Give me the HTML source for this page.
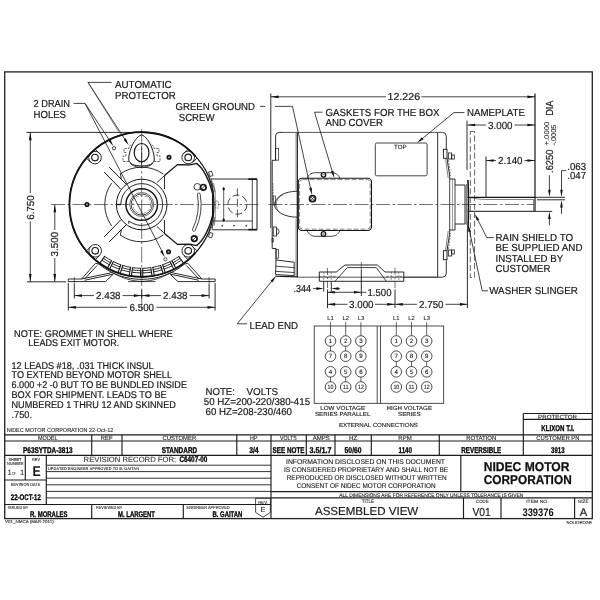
<!DOCTYPE html>
<html><head><meta charset="utf-8"><title>Assembled View</title>
<style>
html,body{margin:0;padding:0;background:#fff;}
body{width:600px;height:600px;overflow:hidden;font-family:"Liberation Sans",sans-serif;}
svg{display:block;text-rendering:geometricPrecision;font-family:"Liberation Sans",sans-serif;filter:grayscale(1) blur(0.3px);}
</style></head><body>
<svg width="600" height="600" viewBox="0 0 600 600">
<rect x="0" y="0" width="600" height="600" fill="#fff"/>
<rect x="4.7" y="71.9" width="587.6" height="446.7" stroke="#222" stroke-width="1.3" fill="none" />
<circle cx="141.7" cy="204.5" r="72.3" stroke="#151515" stroke-width="1.2" fill="none" />
<path d="M195.43 252.88 A72.3 72.3 0 1 1 195.43 156.12" stroke="#151515" stroke-width="1.8" fill="none" />
<line x1="51" y1="204.5" x2="259.5" y2="204.5" stroke="#151515" stroke-width="0.6" stroke-dasharray="14 2.5 2.5 2.5"/>
<line x1="141.7" y1="129" x2="141.7" y2="312" stroke="#151515" stroke-width="0.6" stroke-dasharray="16 2.5 2.5 2.5"/>
<circle cx="141.7" cy="204.5" r="10.6" stroke="#151515" stroke-width="0.8" fill="none" />
<circle cx="141.7" cy="204.5" r="12.0" stroke="#444" stroke-width="0.8" fill="none" />
<circle cx="141.7" cy="204.5" r="9.0" stroke="#555" stroke-width="0.6" fill="none" stroke-dasharray="3 1.5"/>
<circle cx="141.7" cy="204.5" r="15.8" stroke="#151515" stroke-width="1.5" fill="none" />
<path d="M120.80 204.50 A20.9 20.9 0 1 1 128.83 220.97" stroke="#151515" stroke-width="0.9" fill="none" />
<circle cx="141.7" cy="204.5" r="25.3" stroke="#151515" stroke-width="1.0" fill="none" />
<line x1="116.39999999999999" y1="204.5" x2="120.79999999999998" y2="204.5" stroke="#151515" stroke-width="1.4" />
<line x1="128.83" y1="220.97" x2="128.73" y2="223.73" stroke="#151515" stroke-width="0.9" />
<path d="M120.52 173.80 A37.3 37.3 0 0 1 163.36 174.13" stroke="#151515" stroke-width="0.9" fill="none" />
<path d="M163.36 234.87 A37.3 37.3 0 0 1 120.52 235.20" stroke="#151515" stroke-width="0.9" fill="none" />
<path d="M111.62 225.88 A36.9 36.9 0 0 1 111.62 183.12" stroke="#151515" stroke-width="0.9" fill="none" />
<line x1="104.2" y1="172.1" x2="120.8" y2="189.2" stroke="#151515" stroke-width="1.0" />
<line x1="109.2" y1="167.1" x2="126.25" y2="184.2" stroke="#151515" stroke-width="1.0" />
<line x1="120.4" y1="173.3" x2="121.3" y2="179.2" stroke="#151515" stroke-width="0.9" />
<line x1="164.5" y1="175.5" x2="157.0" y2="182.5" stroke="#151515" stroke-width="0.9" />
<line x1="164.5" y1="175.5" x2="164.5" y2="189.0" stroke="#151515" stroke-width="0.9" />
<line x1="104.2" y1="236.9" x2="120.8" y2="219.8" stroke="#151515" stroke-width="1.0" />
<line x1="109.2" y1="241.9" x2="126.25" y2="224.8" stroke="#151515" stroke-width="1.0" />
<line x1="120.4" y1="235.7" x2="121.3" y2="229.8" stroke="#151515" stroke-width="0.9" />
<line x1="164.5" y1="233.5" x2="157.0" y2="226.5" stroke="#151515" stroke-width="0.9" />
<line x1="164.5" y1="233.5" x2="164.5" y2="220.0" stroke="#151515" stroke-width="0.9" />
<circle cx="95.0" cy="157.6" r="6.3" stroke="#151515" stroke-width="0.9" fill="none" />
<circle cx="95.0" cy="157.6" r="3.3" stroke="#151515" stroke-width="1.1" fill="none" />
<circle cx="188.2" cy="157.4" r="6.3" stroke="#151515" stroke-width="0.9" fill="none" />
<circle cx="188.2" cy="157.4" r="3.3" stroke="#151515" stroke-width="1.1" fill="none" />
<circle cx="95.2" cy="250.8" r="6.3" stroke="#151515" stroke-width="0.9" fill="none" />
<circle cx="95.2" cy="250.8" r="3.3" stroke="#151515" stroke-width="1.1" fill="none" />
<circle cx="188.2" cy="250.8" r="6.3" stroke="#151515" stroke-width="0.9" fill="none" />
<circle cx="188.2" cy="250.8" r="3.3" stroke="#151515" stroke-width="1.1" fill="none" />
<line x1="183.7" y1="255.41" x2="188.02" y2="259.73" stroke="#151515" stroke-width="0.9" />
<line x1="192.61" y1="246.5" x2="196.93" y2="250.82" stroke="#151515" stroke-width="0.9" />
<line x1="90.79" y1="246.5" x2="86.47" y2="250.82" stroke="#151515" stroke-width="0.9" />
<line x1="99.7" y1="255.41" x2="95.38" y2="259.73" stroke="#151515" stroke-width="0.9" />
<line x1="99.7" y1="153.59" x2="95.38" y2="149.27" stroke="#151515" stroke-width="0.9" />
<line x1="90.79" y1="162.5" x2="86.47" y2="158.18" stroke="#151515" stroke-width="0.9" />
<line x1="192.61" y1="162.5" x2="196.93" y2="158.18" stroke="#151515" stroke-width="0.9" />
<line x1="183.7" y1="153.59" x2="188.02" y2="149.27" stroke="#151515" stroke-width="0.9" />
<circle cx="87.0" cy="204.5" r="1.8" stroke="#151515" stroke-width="1.5" fill="#9a9a9a" />
<circle cx="169.0" cy="157.2" r="1.8" stroke="#151515" stroke-width="1.5" fill="#9a9a9a" />
<circle cx="168.5" cy="251.7" r="1.8" stroke="#151515" stroke-width="1.5" fill="#9a9a9a" />
<circle cx="114.0" cy="148.2" r="1.7" stroke="#151515" stroke-width="0.8" fill="none" />
<circle cx="165.3" cy="259.3" r="1.6" stroke="#151515" stroke-width="0.7" fill="none" />
<path d="M141.5 134.8 C145.5 136,149.5 142,151.5 147 C153.3 151.5,154.6 156.5,154.2 160 C153.7 163.8,149 165.9,141.5 165.9 C134 165.9,129.3 163.8,128.8 160 C128.4 156.5,129.7 151.5,131.5 147 C133.5 142,137.5 136,141.5 134.8 Z" stroke="#151515" stroke-width="1.0" fill="none" />
<path d="M130.2 163.3 C132.5 166.2,137 167.3,141.5 167.3 C146 167.3,150.5 166.2,152.8 163.3" stroke="#151515" stroke-width="0.8" fill="none" />
<ellipse cx="141.6" cy="152.7" rx="7.4" ry="9.2" stroke="#151515" stroke-width="1.2" fill="none"/>
<line x1="141.6" y1="145.5" x2="141.6" y2="164.5" stroke="#151515" stroke-width="0.7" />
<path d="M131.2 144.8 L129 146.6 L129 148.5 L124 148.5 L124 152.5 L126 152.5 L126 156 L123 156 L123 161.5 L129 161.5" stroke="#222" stroke-width="0.7" fill="none" stroke-dasharray="2.4 1.1"/>
<path d="M151.8 144.8 L154 146.6 L154 148.5 L159 148.5 L159 152.5 L157 152.5 L157 156 L160 156 L160 161.5 L154 161.5" stroke="#222" stroke-width="0.7" fill="none" stroke-dasharray="2.4 1.1"/>
<path d="M164.5 175.5 L177.5 164.6 L190 164.9 L196.5 163.4 C203 168,209.5 180,212.6 193.5 L212.6 215.5 C209.5 229,203 241,196.5 245.6 L190 244.1 L177.5 244.4 L164.5 233.5" stroke="#151515" stroke-width="1.3" fill="none" />
<path d="M198.5 165 C204 170,210 181,213.6 193" stroke="#333" stroke-width="0.6" fill="none" />
<path d="M198.5 244 C204 239,210 228,213.6 216" stroke="#333" stroke-width="0.6" fill="none" />
<path d="M200.5 163.2 C206 169,212 180,215 192" stroke="#333" stroke-width="0.6" fill="none" />
<path d="M200.5 245.8 C206 240,212 229,215 217" stroke="#333" stroke-width="0.6" fill="none" />
<circle cx="197.3" cy="186.8" r="3.3" stroke="#151515" stroke-width="0.8" fill="none" />
<circle cx="203.3" cy="187.3" r="2.8" stroke="#151515" stroke-width="1.7" fill="none" />
<line x1="201.4" y1="189.2" x2="205.2" y2="185.4" stroke="#151515" stroke-width="0.9" />
<circle cx="194.3" cy="238.6" r="2.8" stroke="#151515" stroke-width="1.7" fill="none" />
<line x1="192.4" y1="240.5" x2="196.2" y2="236.7" stroke="#151515" stroke-width="0.9" />
<path d="M197.44 194.67 A56.6 56.6 0 0 1 192.57 229.31 A1.3999999999999986 1.3999999999999986 0 0 0 195.09 230.54 A59.4 59.4 0 0 0 200.20 194.19 A1.3999999999999986 1.3999999999999986 0 0 0 197.44 194.67 Z" stroke="#151515" stroke-width="0.8" fill="none" />
<path d="M208.5 172 L211.5 171 L213 175.5 L210 176.5 Z" stroke="#151515" stroke-width="0.8" fill="none" />
<path d="M208.5 237 L211.5 238 L213 233.5 L210 232.5 Z" stroke="#151515" stroke-width="0.8" fill="none" />
<line x1="211.0" y1="179.0" x2="257.0" y2="179.0" stroke="#151515" stroke-width="0.9" />
<line x1="212.3" y1="229.8" x2="257.0" y2="229.8" stroke="#151515" stroke-width="0.9" />
<line x1="257.0" y1="179.0" x2="257.0" y2="229.8" stroke="#151515" stroke-width="1.0" />
<line x1="252.3" y1="179.0" x2="252.3" y2="229.8" stroke="#151515" stroke-width="0.8" />
<line x1="248.3" y1="179.2" x2="257.0" y2="179.2" stroke="#151515" stroke-width="1.6" />
<line x1="248.3" y1="229.6" x2="257.0" y2="229.6" stroke="#151515" stroke-width="1.6" />
<path d="M211.5 179.5 L213.2 191.7 L213.2 218.3 L212.3 229.5" stroke="#151515" stroke-width="0.7" fill="none" />
<path d="M213.5 183 L215.2 191.7 L215.2 218.3 L214 226" stroke="#333" stroke-width="0.6" fill="none" />
<line x1="213.2" y1="221.0" x2="252.3" y2="221.0" stroke="#151515" stroke-width="0.8" />
<circle cx="222.3" cy="225.7" r="0.5" stroke="#151515" stroke-width="0.7" fill="#151515" />
<circle cx="234.0" cy="225.7" r="0.5" stroke="#151515" stroke-width="0.7" fill="#151515" />
<circle cx="246.3" cy="225.7" r="0.5" stroke="#151515" stroke-width="0.7" fill="#151515" />
<circle cx="237.4" cy="204.6" r="9.6" stroke="#151515" stroke-width="0.8" fill="none" stroke-dasharray="7 3"/>
<line x1="237.4" y1="188.3" x2="237.4" y2="218.5" stroke="#151515" stroke-width="0.7" stroke-dasharray="8 2.5"/>
<line x1="223.7" y1="187.0" x2="223.7" y2="221.5" stroke="#151515" stroke-width="0.7" />
<path d="M223.7 187.6 L224.9 189 L223.7 190.4 L222.5 189 Z" stroke="#151515" stroke-width="0.5" fill="#151515" />
<path d="M223.7 218.6 L224.9 220 L223.7 221.4 L222.5 220 Z" stroke="#151515" stroke-width="0.5" fill="#151515" />
<rect x="215.8" y="201.0" width="2.6" height="7.2" stroke="#333" stroke-width="0.5" fill="none" stroke-dasharray="2 1"/>
<path d="M178.75 256.44 A63.8 63.8 0 0 1 171.85 260.73" stroke="#151515" stroke-width="0.9" fill="none" />
<path d="M180.08 258.31 A66.1 66.1 0 0 1 172.94 262.75" stroke="#151515" stroke-width="0.9" fill="none" />
<path d="M181.42 260.19 A68.4 68.4 0 0 1 174.02 264.78" stroke="#151515" stroke-width="0.9" fill="none" />
<line x1="178.52" y1="256.11" x2="183.28" y2="262.79" stroke="#151515" stroke-width="1.1" />
<line x1="171.66" y1="260.37" x2="175.53" y2="267.6" stroke="#151515" stroke-width="1.1" />
<path d="M170.07 261.65 A63.8 63.8 0 0 1 162.58 264.79" stroke="#151515" stroke-width="0.9" fill="none" />
<path d="M171.09 263.71 A66.1 66.1 0 0 1 163.33 266.96" stroke="#151515" stroke-width="0.9" fill="none" />
<path d="M172.11 265.77 A68.4 68.4 0 0 1 164.08 269.13" stroke="#151515" stroke-width="0.9" fill="none" />
<line x1="169.89" y1="261.29" x2="173.54" y2="268.63" stroke="#151515" stroke-width="1.1" />
<line x1="162.45" y1="264.41" x2="165.13" y2="272.16" stroke="#151515" stroke-width="1.1" />
<path d="M160.67 265.41 A63.8 63.8 0 0 1 152.78 267.33" stroke="#151515" stroke-width="0.9" fill="none" />
<path d="M161.36 267.61 A66.1 66.1 0 0 1 153.18 269.60" stroke="#151515" stroke-width="0.9" fill="none" />
<path d="M162.04 269.81 A68.4 68.4 0 0 1 153.58 271.86" stroke="#151515" stroke-width="0.9" fill="none" />
<line x1="160.55" y1="265.03" x2="162.99" y2="272.86" stroke="#151515" stroke-width="1.1" />
<line x1="152.71" y1="266.94" x2="154.13" y2="275.01" stroke="#151515" stroke-width="1.1" />
<path d="M150.80 267.65 A63.8 63.8 0 0 1 142.70 268.29" stroke="#151515" stroke-width="0.9" fill="none" />
<path d="M151.13 269.92 A66.1 66.1 0 0 1 142.74 270.59" stroke="#151515" stroke-width="0.9" fill="none" />
<path d="M151.46 272.20 A68.4 68.4 0 0 1 142.77 272.89" stroke="#151515" stroke-width="0.9" fill="none" />
<line x1="150.74" y1="267.25" x2="151.91" y2="275.37" stroke="#151515" stroke-width="1.1" />
<line x1="142.7" y1="267.89" x2="142.82" y2="276.09" stroke="#151515" stroke-width="1.1" />
<path d="M140.70 268.29 A63.8 63.8 0 0 1 132.60 267.65" stroke="#151515" stroke-width="0.9" fill="none" />
<path d="M140.66 270.59 A66.1 66.1 0 0 1 132.27 269.92" stroke="#151515" stroke-width="0.9" fill="none" />
<path d="M140.63 272.89 A68.4 68.4 0 0 1 131.94 272.20" stroke="#151515" stroke-width="0.9" fill="none" />
<line x1="140.7" y1="267.89" x2="140.58" y2="276.09" stroke="#151515" stroke-width="1.1" />
<line x1="132.66" y1="267.25" x2="131.49" y2="275.37" stroke="#151515" stroke-width="1.1" />
<path d="M130.62 267.33 A63.8 63.8 0 0 1 122.73 265.41" stroke="#151515" stroke-width="0.9" fill="none" />
<path d="M130.22 269.60 A66.1 66.1 0 0 1 122.04 267.61" stroke="#151515" stroke-width="0.9" fill="none" />
<path d="M129.82 271.86 A68.4 68.4 0 0 1 121.36 269.81" stroke="#151515" stroke-width="0.9" fill="none" />
<line x1="130.69" y1="266.94" x2="129.27" y2="275.01" stroke="#151515" stroke-width="1.1" />
<line x1="122.85" y1="265.03" x2="120.41" y2="272.86" stroke="#151515" stroke-width="1.1" />
<path d="M120.82 264.79 A63.8 63.8 0 0 1 113.33 261.65" stroke="#151515" stroke-width="0.9" fill="none" />
<path d="M120.07 266.96 A66.1 66.1 0 0 1 112.31 263.71" stroke="#151515" stroke-width="0.9" fill="none" />
<path d="M119.32 269.13 A68.4 68.4 0 0 1 111.29 265.77" stroke="#151515" stroke-width="0.9" fill="none" />
<line x1="120.95" y1="264.41" x2="118.27" y2="272.16" stroke="#151515" stroke-width="1.1" />
<line x1="113.51" y1="261.29" x2="109.86" y2="268.63" stroke="#151515" stroke-width="1.1" />
<path d="M111.55 260.73 A63.8 63.8 0 0 1 104.65 256.44" stroke="#151515" stroke-width="0.9" fill="none" />
<path d="M110.46 262.75 A66.1 66.1 0 0 1 103.32 258.31" stroke="#151515" stroke-width="0.9" fill="none" />
<path d="M109.38 264.78 A68.4 68.4 0 0 1 101.98 260.19" stroke="#151515" stroke-width="0.9" fill="none" />
<line x1="111.74" y1="260.37" x2="107.87" y2="267.6" stroke="#151515" stroke-width="1.1" />
<line x1="104.88" y1="256.11" x2="100.12" y2="262.79" stroke="#151515" stroke-width="1.1" />
<path d="M68.2 279 L81.5 279 L95.5 263.3 L99.0 264.2" stroke="#151515" stroke-width="0.9" fill="none" />
<path d="M68.2 281.6 L105.5 281.6 L113.5 274" stroke="#151515" stroke-width="0.9" fill="none" />
<line x1="68.2" y1="279" x2="68.2" y2="281.6" stroke="#151515" stroke-width="0.9" />
<path d="M84.5 279 L97.0 265.5" stroke="#151515" stroke-width="0.9" fill="none" />
<path d="M81.5 279 L112.5 272.5" stroke="#151515" stroke-width="0.9" fill="none" />
<path d="M84.5 280.3 L113.0 274.2" stroke="#151515" stroke-width="0.9" fill="none" />
<line x1="74.3" y1="277" x2="74.3" y2="284" stroke="#151515" stroke-width="0.6" />
<path d="M215.2 279 L201.9 279 L187.9 263.3 L184.4 264.2" stroke="#151515" stroke-width="0.9" fill="none" />
<path d="M215.2 281.6 L177.9 281.6 L169.9 274" stroke="#151515" stroke-width="0.9" fill="none" />
<line x1="215.2" y1="279" x2="215.2" y2="281.6" stroke="#151515" stroke-width="0.9" />
<path d="M198.9 279 L186.4 265.5" stroke="#151515" stroke-width="0.9" fill="none" />
<path d="M201.9 279 L170.9 272.5" stroke="#151515" stroke-width="0.9" fill="none" />
<path d="M198.9 280.3 L170.4 274.2" stroke="#151515" stroke-width="0.9" fill="none" />
<line x1="209.1" y1="277" x2="209.1" y2="284" stroke="#151515" stroke-width="0.6" />
<path d="M99 264.2 C112 274.5,126 279.2,141.7 279.4 C157.4 279.2,171.4 274.5,184.4 264.2" stroke="#151515" stroke-width="0.9" fill="none" />
<path d="M112.5 272.7 C122 277.8,131 281.2,141.7 281.4 C152.4 281.2,161.4 277.8,170.9 272.7" stroke="#151515" stroke-width="0.8" fill="none" />
<line x1="128" y1="281.6" x2="155.4" y2="281.6" stroke="#151515" stroke-width="0.8" />
<line x1="268.5" y1="204.5" x2="534" y2="204.5" stroke="#151515" stroke-width="0.6" stroke-dasharray="14 2.5 2.5 2.5"/>
<line x1="283.0" y1="132.4" x2="442.5" y2="132.4" stroke="#2a2a2a" stroke-width="0.8" />
<line x1="297.3" y1="277.2" x2="437.7" y2="277.2" stroke="#2a2a2a" stroke-width="0.8" />
<path d="M283 132.4 L279.2 132.4 Q275.6 132.4 275.6 136 L275.6 160.3 L272.0 160.3" stroke="#151515" stroke-width="0.9" fill="none" />
<line x1="272.2" y1="160.3" x2="272.2" y2="248.5" stroke="#151515" stroke-width="0.9" />
<line x1="270.8" y1="160.3" x2="270.8" y2="228.0" stroke="#151515" stroke-width="0.9" />
<rect x="275.6" y="148.3" width="3.1" height="11.8" stroke="#151515" stroke-width="0.7" fill="none" />
<line x1="297.3" y1="132.4" x2="297.3" y2="277.2" stroke="#151515" stroke-width="1.2" />
<line x1="295.9" y1="133" x2="295.9" y2="190" stroke="#444" stroke-width="0.5" />
<line x1="295.9" y1="219" x2="295.9" y2="277" stroke="#444" stroke-width="0.5" />
<path d="M297.3 191.2 C284.5 191.2,274.6 197.2,274.6 204.5 C274.6 211.5,284.5 217.2,297.3 217.2" stroke="#151515" stroke-width="0.9" fill="none" />
<path d="M283 194.6 C278.5 196.8,276.3 200.3,276.3 204.5 C276.3 207.5,277.3 209.8,279 211.5" stroke="#333" stroke-width="0.6" fill="none" />
<line x1="273.0" y1="183" x2="273.0" y2="200" stroke="#333" stroke-width="0.6" stroke-dasharray="2 1"/>
<rect x="273.4" y="196.0" width="2.0" height="9" stroke="#151515" stroke-width="0.6" fill="none" />
<rect x="273.2" y="227.0" width="3.2" height="9.0" stroke="#151515" stroke-width="0.8" fill="none" />
<path d="M276.4 228.5 Q279 228.5 279 231.5 Q279 234.5 276.4 234.5" stroke="#151515" stroke-width="0.8" fill="none" />
<rect x="272.0" y="238.5" width="1.6" height="3.5" stroke="#151515" stroke-width="0.6" fill="none" />
<path d="M272.2 248.5 L276.0 248.5 L276.0 260" stroke="#151515" stroke-width="0.9" fill="none" />
<rect x="276.0" y="249.5" width="2.4" height="8.8" stroke="#151515" stroke-width="0.7" fill="none" />
<path d="M276.0 260.0 L294.2 262.2 L294.2 275.6 L275.6 274.6 Z" stroke="#151515" stroke-width="0.9" fill="none" />
<line x1="275.9" y1="266.2" x2="294.2" y2="267.6" stroke="#151515" stroke-width="0.8" />
<line x1="275.8" y1="271.4" x2="294.2" y2="272.5" stroke="#151515" stroke-width="0.8" />
<line x1="275.5" y1="276.2" x2="297.3" y2="276.9" stroke="#151515" stroke-width="1.1" />
<rect x="298.3" y="178.3" width="73.2" height="52.2" rx="3.7" ry="3.7" stroke="#151515" stroke-width="1.1" fill="none"/>
<rect x="299.6" y="179.6" width="70.6" height="49.6" rx="3" ry="3" stroke="#333" stroke-width="0.6" fill="none" stroke-dasharray="5 2"/>
<path d="M307 178.3 C309 174,312 172.7,316 172.7 L331 172.7 C335 172.7,338 174,340 178.3" stroke="#151515" stroke-width="0.8" fill="none" />
<path d="M307 230.5 C309 234.8,312 236.3,316 236.3 L331 236.3 C335 236.3,338 234.8,340 230.5" stroke="#151515" stroke-width="0.8" fill="none" />
<circle cx="323.5" cy="174.8" r="2.3" stroke="#151515" stroke-width="1.2" fill="none" />
<line x1="322" y1="174.8" x2="325" y2="174.8" stroke="#151515" stroke-width="0.6" />
<circle cx="323.5" cy="234.0" r="2.3" stroke="#151515" stroke-width="1.2" fill="none" />
<line x1="322" y1="234.0" x2="325" y2="234.0" stroke="#151515" stroke-width="0.6" />
<circle cx="312.5" cy="198.7" r="3.0" stroke="#151515" stroke-width="1.7" fill="none" />
<line x1="310.7" y1="196.9" x2="314.3" y2="200.5" stroke="#151515" stroke-width="0.8" />
<line x1="310.7" y1="200.5" x2="314.3" y2="196.9" stroke="#151515" stroke-width="0.8" />
<rect x="375.3" y="143.0" width="51.8" height="32.8" rx="1.5" ry="1.5" stroke="#151515" stroke-width="0.8" fill="none"/>
<text x="400.3" y="149.3" font-size="6.0" text-anchor="middle" textLength="12.5" lengthAdjust="spacingAndGlyphs" fill="#222"  stroke="#222" stroke-width="0.12">TOP</text>
<line x1="437.7" y1="132.4" x2="437.7" y2="277.2" stroke="#151515" stroke-width="0.9" />
<path d="M442.5 132.4 Q446.3 132.4 446.3 136.4 L446.3 149.3" stroke="#151515" stroke-width="0.9" fill="none" />
<path d="M442.5 277.2 Q446.3 277.2 446.3 273.2 L446.3 260.3" stroke="#151515" stroke-width="0.9" fill="none" />
<line x1="437.7" y1="277.2" x2="442.5" y2="277.2" stroke="#151515" stroke-width="0.9" />
<rect x="443.4" y="149.3" width="3.6" height="9.0" stroke="#151515" stroke-width="0.9" fill="none" />
<rect x="448.3" y="153.0" width="3.4" height="6" stroke="#151515" stroke-width="0.8" fill="none" />
<rect x="451.7" y="155.0" width="2.6" height="4" stroke="#151515" stroke-width="0.8" fill="none" />
<path d="M447 158.3 L449.7 176.0 L449.7 179.0 L455 179.0 L455 185.0 L465 185.0 L465 204.5" stroke="#151515" stroke-width="0.9" fill="none" />
<line x1="445.6" y1="159.0" x2="448.2" y2="178.0" stroke="#333" stroke-width="0.6" />
<line x1="448.5" y1="160.0" x2="450.5" y2="176.0" stroke="#333" stroke-width="0.6" stroke-dasharray="2 1"/>
<rect x="443.4" y="250.7" width="3.6" height="9.0" stroke="#151515" stroke-width="0.9" fill="none" />
<rect x="448.3" y="250.0" width="3.4" height="6" stroke="#151515" stroke-width="0.8" fill="none" />
<rect x="451.7" y="250.0" width="2.6" height="4" stroke="#151515" stroke-width="0.8" fill="none" />
<path d="M447 250.7 L449.7 233.0 L449.7 230.0 L455 230.0 L455 224.0 L465 224.0 L465 204.5" stroke="#151515" stroke-width="0.9" fill="none" />
<line x1="445.6" y1="250.0" x2="448.2" y2="231.0" stroke="#333" stroke-width="0.6" />
<line x1="448.5" y1="249.0" x2="450.5" y2="233.0" stroke="#333" stroke-width="0.6" stroke-dasharray="2 1"/>
<line x1="449.7" y1="179" x2="449.7" y2="230" stroke="#151515" stroke-width="0.8" />
<line x1="455" y1="185" x2="455" y2="224" stroke="#151515" stroke-width="0.8" />
<line x1="452.5" y1="179" x2="452.5" y2="230" stroke="#444" stroke-width="0.5" />
<path d="M467.9 180 C468.6 190,468.6 219,467.9 229" stroke="#151515" stroke-width="1.6" fill="none" />
<line x1="466.4" y1="184" x2="466.4" y2="225" stroke="#151515" stroke-width="0.6" />
<rect x="470.3" y="131.4" width="4.3" height="146.2" stroke="#222" stroke-width="0.7" fill="none" stroke-dasharray="6 2.5"/>
<line x1="467.5" y1="197.3" x2="535.0" y2="197.3" stroke="#151515" stroke-width="1.2" />
<line x1="467.5" y1="211.3" x2="535.0" y2="211.3" stroke="#151515" stroke-width="1.0" />
<line x1="535.0" y1="197.3" x2="535.0" y2="211.3" stroke="#151515" stroke-width="1.2" />
<path d="M470 197.5 C476 198.6,480 199.4,486 199.5 L533.5 199.5" stroke="#333" stroke-width="0.6" fill="none" />
<line x1="533.5" y1="199.5" x2="533.5" y2="211" stroke="#333" stroke-width="0.6" />
<path d="M319.3 272 L336.2 272 L345 265 L377.5 265 L385 272 L403.8 272 L403.8 281.3 L319.3 281.3 Z" stroke="#151515" stroke-width="0.9" fill="none" />
<path d="M335 281.3 L347.3 267.6 L376.3 267.6 L386.3 281.3" stroke="#151515" stroke-width="0.8" fill="none" />
<line x1="319.3" y1="276.4" x2="336" y2="276.4" stroke="#333" stroke-width="0.5" stroke-dasharray="3 1.5"/>
<line x1="386" y1="276.4" x2="403.8" y2="276.4" stroke="#333" stroke-width="0.5" stroke-dasharray="3 1.5"/>
<line x1="323.7" y1="272" x2="323.7" y2="281.3" stroke="#333" stroke-width="0.5" stroke-dasharray="2 1"/>
<line x1="331.3" y1="272" x2="331.3" y2="281.3" stroke="#333" stroke-width="0.5" stroke-dasharray="2 1"/>
<line x1="391.2" y1="272" x2="391.2" y2="281.3" stroke="#333" stroke-width="0.5" stroke-dasharray="2 1"/>
<line x1="398.8" y1="272" x2="398.8" y2="281.3" stroke="#333" stroke-width="0.5" stroke-dasharray="2 1"/>
<line x1="403.8" y1="277.2" x2="437.7" y2="277.2" stroke="#151515" stroke-width="0.7" />
<text x="14" y="336.8" font-size="9.8" textLength="158.7" lengthAdjust="spacingAndGlyphs" fill="#1a1a1a"  stroke="#1a1a1a" stroke-width="0.2">NOTE: GROMMET IN SHELL WHERE</text>
<text x="28.3" y="346.4" font-size="9.8" textLength="91" lengthAdjust="spacingAndGlyphs" fill="#1a1a1a"  stroke="#1a1a1a" stroke-width="0.2">LEADS EXIT MOTOR.</text>
<text x="11.5" y="368.6" font-size="9.8" textLength="142.2" lengthAdjust="spacingAndGlyphs" fill="#1a1a1a"  stroke="#1a1a1a" stroke-width="0.2">12 LEADS #18, .031 THICK INSUL</text>
<text x="11.5" y="378.3" font-size="9.8" textLength="160.5" lengthAdjust="spacingAndGlyphs" fill="#1a1a1a"  stroke="#1a1a1a" stroke-width="0.2">TO EXTEND BEYOND MOTOR SHELL</text>
<text x="11.5" y="388.1" font-size="9.8" textLength="175.5" lengthAdjust="spacingAndGlyphs" fill="#1a1a1a"  stroke="#1a1a1a" stroke-width="0.2">6.000 +2 -0 BUT TO BE BUNDLED INSIDE</text>
<text x="11.5" y="397.9" font-size="9.8" textLength="155.2" lengthAdjust="spacingAndGlyphs" fill="#1a1a1a"  stroke="#1a1a1a" stroke-width="0.2">BOX FOR SHIPMENT. LEADS TO BE</text>
<text x="11.5" y="407.7" font-size="9.8" textLength="164.3" lengthAdjust="spacingAndGlyphs" fill="#1a1a1a"  stroke="#1a1a1a" stroke-width="0.2">NUMBERED 1 THRU 12 AND SKINNED</text>
<text x="11.5" y="417.6" font-size="9.8" textLength="20.5" lengthAdjust="spacingAndGlyphs" fill="#1a1a1a"  stroke="#1a1a1a" stroke-width="0.2">.750.</text>
<text x="6.7" y="432.3" font-size="5.8" textLength="106.6" lengthAdjust="spacingAndGlyphs" fill="#2a2a2a"  stroke="#2a2a2a" stroke-width="0.12">NIDEC MOTOR CORPORATION 22-Oct-12</text>
<text x="205.5" y="394.7" font-size="10.0" textLength="29.5" lengthAdjust="spacingAndGlyphs" fill="#1a1a1a"  stroke="#1a1a1a" stroke-width="0.2">NOTE:</text>
<text x="246.5" y="394.7" font-size="10.0" textLength="31.5" lengthAdjust="spacingAndGlyphs" fill="#1a1a1a"  stroke="#1a1a1a" stroke-width="0.2">VOLTS</text>
<text x="203.8" y="405.4" font-size="10.0" textLength="106.3" lengthAdjust="spacingAndGlyphs" fill="#1a1a1a"  stroke="#1a1a1a" stroke-width="0.2">50 HZ=200-220/380-415</text>
<text x="205.5" y="415.4" font-size="10.0" textLength="86.5" lengthAdjust="spacingAndGlyphs" fill="#1a1a1a"  stroke="#1a1a1a" stroke-width="0.2">60 HZ=208-230/460</text>
<text x="249.5" y="328.8" font-size="10.1" textLength="48.5" lengthAdjust="spacingAndGlyphs" fill="#1a1a1a"  stroke="#1a1a1a" stroke-width="0.2">LEAD END</text>
<rect x="314.2" y="326.0" width="129.5" height="77.3" stroke="#222" stroke-width="0.8" fill="none" />
<line x1="377.2" y1="326.0" x2="377.2" y2="403.3" stroke="#222" stroke-width="0.8" />
<line x1="380.5" y1="326.0" x2="380.5" y2="403.3" stroke="#222" stroke-width="0.8" />
<text x="330.5" y="320.3" font-size="5.8" text-anchor="middle" fill="#2a2a2a"  stroke="#2a2a2a" stroke-width="0.12">L1</text>
<line x1="330.5" y1="322.2" x2="330.5" y2="335.7" stroke="#222" stroke-width="0.7" />
<line x1="330.5" y1="346.3" x2="330.5" y2="350.9" stroke="#222" stroke-width="0.7" />
<line x1="330.5" y1="377.1" x2="330.5" y2="381.7" stroke="#222" stroke-width="0.7" />
<circle cx="330.5" cy="341.0" r="5.3" stroke="#222" stroke-width="0.8" fill="none" />
<text x="330.5" y="343.2" font-size="6.2" text-anchor="middle" fill="#1a1a1a"  stroke="#1a1a1a" stroke-width="0.12">1</text>
<circle cx="330.5" cy="356.2" r="5.3" stroke="#222" stroke-width="0.8" fill="none" />
<text x="330.5" y="358.4" font-size="6.2" text-anchor="middle" fill="#1a1a1a"  stroke="#1a1a1a" stroke-width="0.12">7</text>
<circle cx="330.5" cy="371.8" r="5.3" stroke="#222" stroke-width="0.8" fill="none" />
<text x="330.5" y="374.0" font-size="6.2" text-anchor="middle" fill="#1a1a1a"  stroke="#1a1a1a" stroke-width="0.12">4</text>
<circle cx="330.5" cy="387.0" r="5.3" stroke="#222" stroke-width="0.8" fill="none" />
<text x="330.5" y="389.2" font-size="6.2" text-anchor="middle" textLength="5.8" lengthAdjust="spacingAndGlyphs" fill="#1a1a1a"  stroke="#1a1a1a" stroke-width="0.12">10</text>
<text x="345.7" y="320.3" font-size="5.8" text-anchor="middle" fill="#2a2a2a"  stroke="#2a2a2a" stroke-width="0.12">L2</text>
<line x1="345.7" y1="322.2" x2="345.7" y2="335.7" stroke="#222" stroke-width="0.7" />
<line x1="345.7" y1="346.3" x2="345.7" y2="350.9" stroke="#222" stroke-width="0.7" />
<line x1="345.7" y1="377.1" x2="345.7" y2="381.7" stroke="#222" stroke-width="0.7" />
<circle cx="345.7" cy="341.0" r="5.3" stroke="#222" stroke-width="0.8" fill="none" />
<text x="345.7" y="343.2" font-size="6.2" text-anchor="middle" fill="#1a1a1a"  stroke="#1a1a1a" stroke-width="0.12">2</text>
<circle cx="345.7" cy="356.2" r="5.3" stroke="#222" stroke-width="0.8" fill="none" />
<text x="345.7" y="358.4" font-size="6.2" text-anchor="middle" fill="#1a1a1a"  stroke="#1a1a1a" stroke-width="0.12">8</text>
<circle cx="345.7" cy="371.8" r="5.3" stroke="#222" stroke-width="0.8" fill="none" />
<text x="345.7" y="374.0" font-size="6.2" text-anchor="middle" fill="#1a1a1a"  stroke="#1a1a1a" stroke-width="0.12">5</text>
<circle cx="345.7" cy="387.0" r="5.3" stroke="#222" stroke-width="0.8" fill="none" />
<text x="345.7" y="389.2" font-size="6.2" text-anchor="middle" textLength="5.8" lengthAdjust="spacingAndGlyphs" fill="#1a1a1a"  stroke="#1a1a1a" stroke-width="0.12">11</text>
<text x="360.9" y="320.3" font-size="5.8" text-anchor="middle" fill="#2a2a2a"  stroke="#2a2a2a" stroke-width="0.12">L3</text>
<line x1="360.9" y1="322.2" x2="360.9" y2="335.7" stroke="#222" stroke-width="0.7" />
<line x1="360.9" y1="346.3" x2="360.9" y2="350.9" stroke="#222" stroke-width="0.7" />
<line x1="360.9" y1="377.1" x2="360.9" y2="381.7" stroke="#222" stroke-width="0.7" />
<circle cx="360.9" cy="341.0" r="5.3" stroke="#222" stroke-width="0.8" fill="none" />
<text x="360.9" y="343.2" font-size="6.2" text-anchor="middle" fill="#1a1a1a"  stroke="#1a1a1a" stroke-width="0.12">3</text>
<circle cx="360.9" cy="356.2" r="5.3" stroke="#222" stroke-width="0.8" fill="none" />
<text x="360.9" y="358.4" font-size="6.2" text-anchor="middle" fill="#1a1a1a"  stroke="#1a1a1a" stroke-width="0.12">9</text>
<circle cx="360.9" cy="371.8" r="5.3" stroke="#222" stroke-width="0.8" fill="none" />
<text x="360.9" y="374.0" font-size="6.2" text-anchor="middle" fill="#1a1a1a"  stroke="#1a1a1a" stroke-width="0.12">6</text>
<circle cx="360.9" cy="387.0" r="5.3" stroke="#222" stroke-width="0.8" fill="none" />
<text x="360.9" y="389.2" font-size="6.2" text-anchor="middle" textLength="5.8" lengthAdjust="spacingAndGlyphs" fill="#1a1a1a"  stroke="#1a1a1a" stroke-width="0.12">12</text>
<text x="396.3" y="320.3" font-size="5.8" text-anchor="middle" fill="#2a2a2a"  stroke="#2a2a2a" stroke-width="0.12">L1</text>
<line x1="396.3" y1="322.2" x2="396.3" y2="335.7" stroke="#222" stroke-width="0.7" />
<line x1="396.3" y1="361.5" x2="396.3" y2="366.5" stroke="#222" stroke-width="0.7" />
<circle cx="396.3" cy="341.0" r="5.3" stroke="#222" stroke-width="0.8" fill="none" />
<text x="396.3" y="343.2" font-size="6.2" text-anchor="middle" fill="#1a1a1a"  stroke="#1a1a1a" stroke-width="0.12">1</text>
<circle cx="396.3" cy="356.2" r="5.3" stroke="#222" stroke-width="0.8" fill="none" />
<text x="396.3" y="358.4" font-size="6.2" text-anchor="middle" fill="#1a1a1a"  stroke="#1a1a1a" stroke-width="0.12">7</text>
<circle cx="396.3" cy="371.8" r="5.3" stroke="#222" stroke-width="0.8" fill="none" />
<text x="396.3" y="374.0" font-size="6.2" text-anchor="middle" fill="#1a1a1a"  stroke="#1a1a1a" stroke-width="0.12">4</text>
<circle cx="396.3" cy="387.0" r="5.3" stroke="#222" stroke-width="0.8" fill="none" />
<text x="396.3" y="389.2" font-size="6.2" text-anchor="middle" textLength="5.8" lengthAdjust="spacingAndGlyphs" fill="#1a1a1a"  stroke="#1a1a1a" stroke-width="0.12">10</text>
<text x="411.5" y="320.3" font-size="5.8" text-anchor="middle" fill="#2a2a2a"  stroke="#2a2a2a" stroke-width="0.12">L2</text>
<line x1="411.5" y1="322.2" x2="411.5" y2="335.7" stroke="#222" stroke-width="0.7" />
<line x1="411.5" y1="361.5" x2="411.5" y2="366.5" stroke="#222" stroke-width="0.7" />
<circle cx="411.5" cy="341.0" r="5.3" stroke="#222" stroke-width="0.8" fill="none" />
<text x="411.5" y="343.2" font-size="6.2" text-anchor="middle" fill="#1a1a1a"  stroke="#1a1a1a" stroke-width="0.12">2</text>
<circle cx="411.5" cy="356.2" r="5.3" stroke="#222" stroke-width="0.8" fill="none" />
<text x="411.5" y="358.4" font-size="6.2" text-anchor="middle" fill="#1a1a1a"  stroke="#1a1a1a" stroke-width="0.12">8</text>
<circle cx="411.5" cy="371.8" r="5.3" stroke="#222" stroke-width="0.8" fill="none" />
<text x="411.5" y="374.0" font-size="6.2" text-anchor="middle" fill="#1a1a1a"  stroke="#1a1a1a" stroke-width="0.12">5</text>
<circle cx="411.5" cy="387.0" r="5.3" stroke="#222" stroke-width="0.8" fill="none" />
<text x="411.5" y="389.2" font-size="6.2" text-anchor="middle" textLength="5.8" lengthAdjust="spacingAndGlyphs" fill="#1a1a1a"  stroke="#1a1a1a" stroke-width="0.12">11</text>
<text x="426.7" y="320.3" font-size="5.8" text-anchor="middle" fill="#2a2a2a"  stroke="#2a2a2a" stroke-width="0.12">L3</text>
<line x1="426.7" y1="322.2" x2="426.7" y2="335.7" stroke="#222" stroke-width="0.7" />
<line x1="426.7" y1="361.5" x2="426.7" y2="366.5" stroke="#222" stroke-width="0.7" />
<circle cx="426.7" cy="341.0" r="5.3" stroke="#222" stroke-width="0.8" fill="none" />
<text x="426.7" y="343.2" font-size="6.2" text-anchor="middle" fill="#1a1a1a"  stroke="#1a1a1a" stroke-width="0.12">3</text>
<circle cx="426.7" cy="356.2" r="5.3" stroke="#222" stroke-width="0.8" fill="none" />
<text x="426.7" y="358.4" font-size="6.2" text-anchor="middle" fill="#1a1a1a"  stroke="#1a1a1a" stroke-width="0.12">9</text>
<circle cx="426.7" cy="371.8" r="5.3" stroke="#222" stroke-width="0.8" fill="none" />
<text x="426.7" y="374.0" font-size="6.2" text-anchor="middle" fill="#1a1a1a"  stroke="#1a1a1a" stroke-width="0.12">6</text>
<circle cx="426.7" cy="387.0" r="5.3" stroke="#222" stroke-width="0.8" fill="none" />
<text x="426.7" y="389.2" font-size="6.2" text-anchor="middle" textLength="5.8" lengthAdjust="spacingAndGlyphs" fill="#1a1a1a"  stroke="#1a1a1a" stroke-width="0.12">12</text>
<text x="342.7" y="409.5" font-size="5.9" text-anchor="middle" textLength="45" lengthAdjust="spacingAndGlyphs" fill="#222"  stroke="#222" stroke-width="0.12">LOW VOLTAGE</text>
<text x="342.7" y="415.8" font-size="5.9" text-anchor="middle" textLength="55.5" lengthAdjust="spacingAndGlyphs" fill="#222"  stroke="#222" stroke-width="0.12">SERIES PARALLEL</text>
<text x="409.3" y="409.5" font-size="5.9" text-anchor="middle" textLength="45.5" lengthAdjust="spacingAndGlyphs" fill="#222"  stroke="#222" stroke-width="0.12">HIGH VOLTAGE</text>
<text x="409.3" y="415.8" font-size="5.9" text-anchor="middle" textLength="22.5" lengthAdjust="spacingAndGlyphs" fill="#222"  stroke="#222" stroke-width="0.12">SERIES</text>
<text x="378.4" y="426.8" font-size="5.9" text-anchor="middle" textLength="79" lengthAdjust="spacingAndGlyphs" fill="#222"  stroke="#222" stroke-width="0.12">EXTERNAL CONNECTIONS</text>
<text x="115" y="88.1" font-size="10.2" textLength="56.7" lengthAdjust="spacingAndGlyphs" fill="#1a1a1a"  stroke="#1a1a1a" stroke-width="0.2">AUTOMATIC</text>
<text x="115" y="98.7" font-size="10.2" textLength="60.7" lengthAdjust="spacingAndGlyphs" fill="#1a1a1a"  stroke="#1a1a1a" stroke-width="0.2">PROTECTOR</text>
<text x="33.5" y="107.3" font-size="10.2" textLength="36.5" lengthAdjust="spacingAndGlyphs" fill="#1a1a1a"  stroke="#1a1a1a" stroke-width="0.2">2 DRAIN</text>
<text x="33.5" y="118.2" font-size="10.2" textLength="32.5" lengthAdjust="spacingAndGlyphs" fill="#1a1a1a"  stroke="#1a1a1a" stroke-width="0.2">HOLES</text>
<text x="175.5" y="110.2" font-size="10.2" textLength="79.5" lengthAdjust="spacingAndGlyphs" fill="#1a1a1a"  stroke="#1a1a1a" stroke-width="0.2">GREEN GROUND</text>
<text x="178.8" y="120.6" font-size="10.2" textLength="35.7" lengthAdjust="spacingAndGlyphs" fill="#1a1a1a"  stroke="#1a1a1a" stroke-width="0.2">SCREW</text>
<line x1="260" y1="106.4" x2="265" y2="106.4" stroke="#151515" stroke-width="0.8" />
<line x1="88" y1="82.4" x2="111.5" y2="82.4" stroke="#151515" stroke-width="0.8" />
<line x1="88" y1="82.4" x2="125.2" y2="139.8" stroke="#151515" stroke-width="0.8" />
<polygon points="128.70,145.20 123.63,139.79 125.81,138.37" fill="#111"/>
<line x1="88" y1="82.4" x2="118.5" y2="131.5" stroke="#333" stroke-width="0.6" />
<line x1="73.5" y1="103.4" x2="85" y2="103.4" stroke="#151515" stroke-width="0.8" />
<line x1="85" y1="103.4" x2="110.8" y2="142.2" stroke="#151515" stroke-width="0.8" />
<polygon points="113.40,146.20 108.29,140.83 110.45,139.40" fill="#111"/>
<line x1="85" y1="103.4" x2="162.8" y2="252.7" stroke="#151515" stroke-width="0.8" />
<polygon points="164.70,257.30 160.18,251.43 162.48,250.22" fill="#111"/>
<line x1="275" y1="106.4" x2="292.5" y2="106.4" stroke="#151515" stroke-width="0.8" />
<line x1="292.5" y1="106.4" x2="310.8" y2="189.5" stroke="#151515" stroke-width="0.8" />
<polygon points="312.00,195.00 309.16,188.15 311.70,187.59" fill="#111"/>
<text x="325.5" y="115.8" font-size="10.2" textLength="114" lengthAdjust="spacingAndGlyphs" fill="#1a1a1a"  stroke="#1a1a1a" stroke-width="0.2">GASKETS FOR THE BOX</text>
<text x="325.5" y="126.4" font-size="10.2" textLength="57.5" lengthAdjust="spacingAndGlyphs" fill="#1a1a1a"  stroke="#1a1a1a" stroke-width="0.2">AND COVER</text>
<line x1="314.5" y1="112.2" x2="322.5" y2="112.2" stroke="#151515" stroke-width="0.8" />
<line x1="314.5" y1="112.2" x2="332.6" y2="172.5" stroke="#151515" stroke-width="0.8" />
<polygon points="334.30,178.00 330.96,171.38 333.45,170.63" fill="#111"/>
<text x="467" y="116.3" font-size="10.2" textLength="58" lengthAdjust="spacingAndGlyphs" fill="#1a1a1a"  stroke="#1a1a1a" stroke-width="0.2">NAMEPLATE</text>
<line x1="453.8" y1="112.6" x2="464.5" y2="112.6" stroke="#151515" stroke-width="0.8" />
<line x1="453.8" y1="112.6" x2="421.5" y2="139.3" stroke="#151515" stroke-width="0.8" />
<polygon points="417.00,143.00 421.81,137.35 423.46,139.36" fill="#111"/>
<line x1="270.8" y1="93.5" x2="270.8" y2="160.3" stroke="#151515" stroke-width="0.9" />
<line x1="535.0" y1="93.5" x2="535.0" y2="197.3" stroke="#151515" stroke-width="1.2" />
<line x1="271" y1="96.8" x2="386" y2="96.8" stroke="#151515" stroke-width="0.8" />
<line x1="421.5" y1="96.8" x2="535" y2="96.8" stroke="#151515" stroke-width="0.8" />
<polygon points="271.00,96.80 278.60,95.45 278.60,98.15" fill="#111"/>
<polygon points="535.00,96.80 527.40,98.15 527.40,95.45" fill="#111"/>
<text x="403.8" y="100.3" font-size="10.2" text-anchor="middle" textLength="32.5" lengthAdjust="spacingAndGlyphs" fill="#1a1a1a"  stroke="#1a1a1a" stroke-width="0.2">12.226</text>
<line x1="467.0" y1="120.5" x2="467.0" y2="170" stroke="#151515" stroke-width="0.9" />
<line x1="467.5" y1="125.0" x2="486" y2="125.0" stroke="#151515" stroke-width="0.8" />
<line x1="514.5" y1="125.0" x2="535" y2="125.0" stroke="#151515" stroke-width="0.8" />
<polygon points="467.50,125.00 475.10,123.65 475.10,126.35" fill="#111"/>
<polygon points="535.00,125.00 527.40,126.35 527.40,123.65" fill="#111"/>
<text x="500.3" y="128.6" font-size="10.2" text-anchor="middle" textLength="24.5" lengthAdjust="spacingAndGlyphs" fill="#1a1a1a"  stroke="#1a1a1a" stroke-width="0.2">3.000</text>
<line x1="486.0" y1="156.5" x2="486.0" y2="197.3" stroke="#151515" stroke-width="0.9" />
<line x1="486.0" y1="160.5" x2="496" y2="160.5" stroke="#151515" stroke-width="0.8" />
<line x1="524.5" y1="160.5" x2="535" y2="160.5" stroke="#151515" stroke-width="0.8" />
<polygon points="486.00,160.50 493.60,159.15 493.60,161.85" fill="#111"/>
<polygon points="535.00,160.50 527.40,161.85 527.40,159.15" fill="#111"/>
<text x="510.3" y="164.3" font-size="10.2" text-anchor="middle" textLength="24.5" lengthAdjust="spacingAndGlyphs" fill="#1a1a1a"  stroke="#1a1a1a" stroke-width="0.2">2.140</text>
<text x="552.6" y="115.8" font-size="10.2" textLength="15.3" lengthAdjust="spacingAndGlyphs" transform="rotate(-90 552.6 115.8)" fill="#1a1a1a"  stroke="#1a1a1a" stroke-width="0.2">DIA</text>
<text x="548.8" y="145.6" font-size="6.9" textLength="24" lengthAdjust="spacingAndGlyphs" transform="rotate(-90 548.8 145.6)" fill="#1a1a1a"  stroke="#1a1a1a" stroke-width="0.12">+.0000</text>
<text x="555.9" y="145.6" font-size="6.9" textLength="21" lengthAdjust="spacingAndGlyphs" transform="rotate(-90 555.9 145.6)" fill="#1a1a1a"  stroke="#1a1a1a" stroke-width="0.12">-.0005</text>
<text x="552.6" y="172.9" font-size="10.2" textLength="23.3" lengthAdjust="spacingAndGlyphs" transform="rotate(-90 552.6 172.9)" fill="#1a1a1a"  stroke="#1a1a1a" stroke-width="0.2">.6250</text>
<text x="567.3" y="169.9" font-size="10.2" textLength="18.7" lengthAdjust="spacingAndGlyphs" fill="#1a1a1a"  stroke="#1a1a1a" stroke-width="0.2">.063</text>
<text x="567.3" y="179.2" font-size="10.2" textLength="18.7" lengthAdjust="spacingAndGlyphs" fill="#1a1a1a"  stroke="#1a1a1a" stroke-width="0.2">.047</text>
<line x1="535" y1="197.3" x2="565" y2="197.3" stroke="#151515" stroke-width="0.9" />
<line x1="537" y1="199.8" x2="565" y2="199.8" stroke="#151515" stroke-width="0.9" />
<line x1="534.7" y1="211.4" x2="552.2" y2="211.4" stroke="#151515" stroke-width="0.9" />
<line x1="549.4" y1="175.2" x2="549.4" y2="192" stroke="#151515" stroke-width="0.8" />
<polygon points="549.40,197.00 548.10,189.70 550.70,189.70" fill="#111"/>
<line x1="549.4" y1="225.3" x2="549.4" y2="217" stroke="#151515" stroke-width="0.8" />
<polygon points="549.40,211.60 550.70,218.90 548.10,218.90" fill="#111"/>
<path d="M566.2 170.6 L561.5 170.6 L561.5 192" stroke="#151515" stroke-width="0.8" fill="none" />
<polygon points="561.50,197.00 560.20,189.70 562.80,189.70" fill="#111"/>
<line x1="561.5" y1="213.8" x2="561.5" y2="206" stroke="#151515" stroke-width="0.8" />
<polygon points="561.50,200.20 562.80,207.50 560.20,207.50" fill="#111"/>
<text x="495.5" y="240.7" font-size="10.2" textLength="77.7" lengthAdjust="spacingAndGlyphs" fill="#1a1a1a"  stroke="#1a1a1a" stroke-width="0.2">RAIN SHIELD TO</text>
<text x="495.5" y="251.2" font-size="10.2" textLength="87" lengthAdjust="spacingAndGlyphs" fill="#1a1a1a"  stroke="#1a1a1a" stroke-width="0.2">BE SUPPLIED AND</text>
<text x="495.5" y="261.7" font-size="10.2" textLength="67.6" lengthAdjust="spacingAndGlyphs" fill="#1a1a1a"  stroke="#1a1a1a" stroke-width="0.2">INSTALLED BY</text>
<text x="495.5" y="272.2" font-size="10.2" textLength="55" lengthAdjust="spacingAndGlyphs" fill="#1a1a1a"  stroke="#1a1a1a" stroke-width="0.2">CUSTOMER</text>
<text x="489.2" y="294.3" font-size="10.2" textLength="88.6" lengthAdjust="spacingAndGlyphs" fill="#1a1a1a"  stroke="#1a1a1a" stroke-width="0.2">WASHER SLINGER</text>
<line x1="486.8" y1="237.6" x2="493.8" y2="237.6" stroke="#151515" stroke-width="0.8" />
<line x1="486.8" y1="237.6" x2="477.3" y2="218.8" stroke="#151515" stroke-width="0.8" />
<polygon points="474.50,213.80 479.23,219.51 476.96,220.79" fill="#111"/>
<line x1="482.2" y1="290.8" x2="488.0" y2="290.8" stroke="#151515" stroke-width="0.8" />
<line x1="482.2" y1="290.8" x2="469.4" y2="230.3" stroke="#151515" stroke-width="0.8" />
<polygon points="468.10,224.60 470.89,231.47 468.35,232.01" fill="#111"/>
<line x1="26.5" y1="132.4" x2="141.7" y2="132.4" stroke="#151515" stroke-width="0.9" />
<line x1="26.8" y1="281.8" x2="66" y2="281.8" stroke="#151515" stroke-width="0.9" />
<line x1="30.3" y1="132.4" x2="30.3" y2="193" stroke="#151515" stroke-width="0.8" />
<line x1="30.3" y1="221.5" x2="30.3" y2="281.8" stroke="#151515" stroke-width="0.8" />
<polygon points="30.30,132.60 31.65,140.20 28.95,140.20" fill="#111"/>
<polygon points="30.30,281.60 28.95,274.00 31.65,274.00" fill="#111"/>
<text x="33.8" y="219.8" font-size="10.2" textLength="24.5" lengthAdjust="spacingAndGlyphs" transform="rotate(-90 33.8 219.8)" fill="#1a1a1a"  stroke="#1a1a1a" stroke-width="0.2">6.750</text>
<line x1="54.8" y1="204.5" x2="54.8" y2="230" stroke="#151515" stroke-width="0.8" />
<line x1="54.8" y1="258" x2="54.8" y2="281.8" stroke="#151515" stroke-width="0.8" />
<polygon points="54.80,204.70 56.15,212.30 53.45,212.30" fill="#111"/>
<polygon points="54.80,281.60 53.45,274.00 56.15,274.00" fill="#111"/>
<text x="58.3" y="256.4" font-size="10.2" textLength="24.5" lengthAdjust="spacingAndGlyphs" transform="rotate(-90 58.3 256.4)" fill="#1a1a1a"  stroke="#1a1a1a" stroke-width="0.2">3.500</text>
<line x1="68.3" y1="283" x2="68.3" y2="310.5" stroke="#151515" stroke-width="0.9" />
<line x1="215.1" y1="283" x2="215.1" y2="310.5" stroke="#151515" stroke-width="0.9" />
<line x1="74.3" y1="284" x2="74.3" y2="298.5" stroke="#151515" stroke-width="0.9" />
<line x1="209.1" y1="284" x2="209.1" y2="298.5" stroke="#151515" stroke-width="0.9" />
<line x1="141.7" y1="290" x2="141.7" y2="298.5" stroke="#151515" stroke-width="0.9" />
<line x1="74.3" y1="295.6" x2="94" y2="295.6" stroke="#151515" stroke-width="0.8" />
<line x1="122.5" y1="295.6" x2="141.7" y2="295.6" stroke="#151515" stroke-width="0.8" />
<line x1="141.7" y1="295.6" x2="161" y2="295.6" stroke="#151515" stroke-width="0.8" />
<line x1="189.5" y1="295.6" x2="209.1" y2="295.6" stroke="#151515" stroke-width="0.8" />
<polygon points="74.30,295.60 81.90,294.25 81.90,296.95" fill="#111"/>
<polygon points="141.50,295.60 133.90,296.95 133.90,294.25" fill="#111"/>
<polygon points="141.90,295.60 149.50,294.25 149.50,296.95" fill="#111"/>
<polygon points="209.10,295.60 201.50,296.95 201.50,294.25" fill="#111"/>
<text x="108.3" y="299.2" font-size="10.2" text-anchor="middle" textLength="24.5" lengthAdjust="spacingAndGlyphs" fill="#1a1a1a"  stroke="#1a1a1a" stroke-width="0.2">2.438</text>
<text x="175.3" y="299.2" font-size="10.2" text-anchor="middle" textLength="24.5" lengthAdjust="spacingAndGlyphs" fill="#1a1a1a"  stroke="#1a1a1a" stroke-width="0.2">2.438</text>
<line x1="68.3" y1="307.3" x2="127" y2="307.3" stroke="#151515" stroke-width="0.8" />
<line x1="156.5" y1="307.3" x2="215.1" y2="307.3" stroke="#151515" stroke-width="0.8" />
<polygon points="68.30,307.30 75.90,305.95 75.90,308.65" fill="#111"/>
<polygon points="215.10,307.30 207.50,308.65 207.50,305.95" fill="#111"/>
<text x="141.8" y="310.9" font-size="10.2" text-anchor="middle" textLength="24.5" lengthAdjust="spacingAndGlyphs" fill="#1a1a1a"  stroke="#1a1a1a" stroke-width="0.2">6.500</text>
<line x1="247" y1="323.8" x2="237.2" y2="323.8" stroke="#151515" stroke-width="0.8" />
<line x1="237.2" y1="323.8" x2="272.6" y2="280.2" stroke="#151515" stroke-width="0.8" />
<polygon points="276.20,275.80 272.62,282.29 270.60,280.66" fill="#111"/>
<line x1="323.7" y1="281.5" x2="323.7" y2="291.5" stroke="#151515" stroke-width="0.9" />
<line x1="331.3" y1="281.5" x2="331.3" y2="291.5" stroke="#151515" stroke-width="0.9" />
<line x1="361.3" y1="270" x2="361.3" y2="296" stroke="#151515" stroke-width="0.9" />
<line x1="467.4" y1="229" x2="467.4" y2="308" stroke="#151515" stroke-width="0.9" />
<line x1="327.5" y1="268" x2="327.5" y2="289" stroke="#151515" stroke-width="0.6" stroke-dasharray="7 2 2 2"/>
<line x1="327.5" y1="289.5" x2="327.5" y2="308" stroke="#151515" stroke-width="0.9" />
<line x1="395.0" y1="268" x2="395.0" y2="289" stroke="#151515" stroke-width="0.6" stroke-dasharray="7 2 2 2"/>
<line x1="395.0" y1="289.5" x2="395.0" y2="308" stroke="#151515" stroke-width="0.9" />
<line x1="361.3" y1="262" x2="361.3" y2="270" stroke="#222" stroke-width="0.6" />
<text x="293.6" y="292.0" font-size="10.2" textLength="17.5" lengthAdjust="spacingAndGlyphs" fill="#1a1a1a"  stroke="#1a1a1a" stroke-width="0.2">.344</text>
<line x1="313" y1="288.6" x2="318" y2="288.6" stroke="#151515" stroke-width="0.8" />
<polygon points="323.70,288.60 316.40,289.90 316.40,287.30" fill="#111"/>
<polygon points="331.30,288.60 338.60,287.30 338.60,289.90" fill="#111"/>
<line x1="337" y1="288.6" x2="340" y2="288.6" stroke="#151515" stroke-width="0.8" />
<line x1="327.5" y1="292.3" x2="361.3" y2="292.3" stroke="#151515" stroke-width="0.8" />
<polygon points="327.50,292.30 334.80,291.00 334.80,293.60" fill="#111"/>
<polygon points="361.30,292.30 354.00,293.60 354.00,291.00" fill="#111"/>
<line x1="361.3" y1="292.3" x2="366.3" y2="292.3" stroke="#151515" stroke-width="0.8" />
<text x="367.5" y="295.8" font-size="10.2" textLength="24" lengthAdjust="spacingAndGlyphs" fill="#1a1a1a"  stroke="#1a1a1a" stroke-width="0.2">1.500</text>
<line x1="327.5" y1="304.3" x2="347.5" y2="304.3" stroke="#151515" stroke-width="0.8" />
<line x1="375" y1="304.3" x2="395" y2="304.3" stroke="#151515" stroke-width="0.8" />
<polygon points="327.50,304.30 335.10,302.95 335.10,305.65" fill="#111"/>
<polygon points="394.80,304.30 387.20,305.65 387.20,302.95" fill="#111"/>
<text x="361.3" y="307.9" font-size="10.2" text-anchor="middle" textLength="24.5" lengthAdjust="spacingAndGlyphs" fill="#1a1a1a"  stroke="#1a1a1a" stroke-width="0.2">3.000</text>
<line x1="395" y1="304.3" x2="417" y2="304.3" stroke="#151515" stroke-width="0.8" />
<line x1="445.5" y1="304.3" x2="467.5" y2="304.3" stroke="#151515" stroke-width="0.8" />
<polygon points="395.20,304.30 402.80,302.95 402.80,305.65" fill="#111"/>
<polygon points="467.50,304.30 459.90,305.65 459.90,302.95" fill="#111"/>
<text x="431.3" y="307.9" font-size="10.2" text-anchor="middle" textLength="24.5" lengthAdjust="spacingAndGlyphs" fill="#1a1a1a"  stroke="#1a1a1a" stroke-width="0.2">2.750</text>
<line x1="4.7" y1="434.8" x2="592.3" y2="434.8" stroke="#1c1c1c" stroke-width="1.15" />
<line x1="4.7" y1="441.0" x2="592.3" y2="441.0" stroke="#1c1c1c" stroke-width="1.15" />
<line x1="4.7" y1="455.4" x2="592.3" y2="455.4" stroke="#1c1c1c" stroke-width="1.15" />
<line x1="523.3" y1="413.5" x2="592.3" y2="413.5" stroke="#1c1c1c" stroke-width="1.15" />
<line x1="523.3" y1="419.4" x2="592.3" y2="419.4" stroke="#1c1c1c" stroke-width="1.15" />
<line x1="523.3" y1="413.5" x2="523.3" y2="455.4" stroke="#1c1c1c" stroke-width="1.15" />
<line x1="91.7" y1="434.8" x2="91.7" y2="455.4" stroke="#1c1c1c" stroke-width="1.15" />
<line x1="122.0" y1="434.8" x2="122.0" y2="455.4" stroke="#1c1c1c" stroke-width="1.15" />
<line x1="236.8" y1="434.8" x2="236.8" y2="455.4" stroke="#1c1c1c" stroke-width="1.15" />
<line x1="271.0" y1="434.8" x2="271.0" y2="455.4" stroke="#1c1c1c" stroke-width="1.15" />
<line x1="306.3" y1="434.8" x2="306.3" y2="455.4" stroke="#1c1c1c" stroke-width="1.15" />
<line x1="335.0" y1="434.8" x2="335.0" y2="455.4" stroke="#1c1c1c" stroke-width="1.15" />
<line x1="371.3" y1="434.8" x2="371.3" y2="455.4" stroke="#1c1c1c" stroke-width="1.15" />
<line x1="439.3" y1="434.8" x2="439.3" y2="455.4" stroke="#1c1c1c" stroke-width="1.15" />
<line x1="25.3" y1="455.4" x2="25.3" y2="480.0" stroke="#1c1c1c" stroke-width="1.15" />
<line x1="46.3" y1="455.4" x2="46.3" y2="504.5" stroke="#1c1c1c" stroke-width="1.15" />
<line x1="4.7" y1="480.0" x2="46.3" y2="480.0" stroke="#1c1c1c" stroke-width="1.15" />
<line x1="4.7" y1="504.5" x2="271.0" y2="504.5" stroke="#1c1c1c" stroke-width="1.15" />
<line x1="91.7" y1="504.5" x2="91.7" y2="518.6" stroke="#1c1c1c" stroke-width="1.15" />
<line x1="183.3" y1="504.5" x2="183.3" y2="518.6" stroke="#1c1c1c" stroke-width="1.15" />
<line x1="271.0" y1="455.4" x2="271.0" y2="518.6" stroke="#1c1c1c" stroke-width="1.15" />
<line x1="46.3" y1="465.2" x2="271.0" y2="465.2" stroke="#1c1c1c" stroke-width="0.9" />
<line x1="46.3" y1="471.6" x2="271.0" y2="471.6" stroke="#1c1c1c" stroke-width="0.9" />
<line x1="46.3" y1="478.2" x2="271.0" y2="478.2" stroke="#1c1c1c" stroke-width="0.9" />
<line x1="46.3" y1="484.8" x2="271.0" y2="484.8" stroke="#1c1c1c" stroke-width="0.9" />
<line x1="46.3" y1="491.4" x2="271.0" y2="491.4" stroke="#1c1c1c" stroke-width="0.9" />
<line x1="46.3" y1="497.9" x2="271.0" y2="497.9" stroke="#1c1c1c" stroke-width="0.9" />
<line x1="271.0" y1="491.6" x2="592.3" y2="491.6" stroke="#1c1c1c" stroke-width="1.15" />
<line x1="271.0" y1="497.8" x2="592.3" y2="497.8" stroke="#1c1c1c" stroke-width="1.15" />
<line x1="460.8" y1="455.4" x2="460.8" y2="491.6" stroke="#1c1c1c" stroke-width="1.15" />
<line x1="463.5" y1="497.8" x2="463.5" y2="518.6" stroke="#1c1c1c" stroke-width="1.15" />
<line x1="501.0" y1="497.8" x2="501.0" y2="518.6" stroke="#1c1c1c" stroke-width="1.15" />
<line x1="574.6" y1="497.8" x2="574.6" y2="518.6" stroke="#1c1c1c" stroke-width="1.15" />
<text x="47.8" y="440.1" font-size="6.0" text-anchor="middle" textLength="19.5" lengthAdjust="spacingAndGlyphs" fill="#262626"  stroke="#262626" stroke-width="0.12">MODEL</text>
<text x="106.6" y="440.1" font-size="6.0" text-anchor="middle" textLength="11.7" lengthAdjust="spacingAndGlyphs" fill="#262626"  stroke="#262626" stroke-width="0.12">REF</text>
<text x="179.4" y="440.1" font-size="6.0" text-anchor="middle" textLength="33.7" lengthAdjust="spacingAndGlyphs" fill="#262626"  stroke="#262626" stroke-width="0.12">CUSTOMER</text>
<text x="253.8" y="440.1" font-size="6.0" text-anchor="middle" textLength="7.5" lengthAdjust="spacingAndGlyphs" fill="#262626"  stroke="#262626" stroke-width="0.12">HP</text>
<text x="288.4" y="440.1" font-size="6.0" text-anchor="middle" textLength="16.7" lengthAdjust="spacingAndGlyphs" fill="#262626"  stroke="#262626" stroke-width="0.12">VOLTS</text>
<text x="321.3" y="440.1" font-size="6.0" text-anchor="middle" textLength="17.3" lengthAdjust="spacingAndGlyphs" fill="#262626"  stroke="#262626" stroke-width="0.12">AMPS</text>
<text x="353.2" y="440.1" font-size="6.0" text-anchor="middle" textLength="8.3" lengthAdjust="spacingAndGlyphs" fill="#262626"  stroke="#262626" stroke-width="0.12">HZ</text>
<text x="405.0" y="440.1" font-size="6.0" text-anchor="middle" textLength="13.4" lengthAdjust="spacingAndGlyphs" fill="#262626"  stroke="#262626" stroke-width="0.12">RPM</text>
<text x="481.3" y="440.1" font-size="6.0" text-anchor="middle" textLength="30" lengthAdjust="spacingAndGlyphs" fill="#262626"  stroke="#262626" stroke-width="0.12">ROTATION</text>
<text x="557.9" y="440.1" font-size="6.0" text-anchor="middle" textLength="43.2" lengthAdjust="spacingAndGlyphs" fill="#262626"  stroke="#262626" stroke-width="0.12">CUSTOMER PN</text>
<text x="557.5" y="418.6" font-size="6.0" text-anchor="middle" textLength="39" lengthAdjust="spacingAndGlyphs" fill="#262626"  stroke="#262626" stroke-width="0.12">PROTECTOR</text>
<text x="47.8" y="452.8" font-size="8.4" text-anchor="middle" font-weight="bold" textLength="49.5" lengthAdjust="spacingAndGlyphs" fill="#000"  stroke="#000" stroke-width="0.3">P63SYTDA-3813</text>
<text x="179.4" y="452.8" font-size="8.4" text-anchor="middle" font-weight="bold" textLength="35.5" lengthAdjust="spacingAndGlyphs" fill="#000"  stroke="#000" stroke-width="0.3">STANDARD</text>
<text x="253.9" y="452.8" font-size="8.4" text-anchor="middle" font-weight="bold" textLength="9.5" lengthAdjust="spacingAndGlyphs" fill="#000"  stroke="#000" stroke-width="0.3">3/4</text>
<text x="288.6" y="452.8" font-size="8.4" text-anchor="middle" font-weight="bold" textLength="32" lengthAdjust="spacingAndGlyphs" fill="#000"  stroke="#000" stroke-width="0.3">SEE NOTE</text>
<text x="320.6" y="452.8" font-size="8.4" text-anchor="middle" font-weight="bold" textLength="22" lengthAdjust="spacingAndGlyphs" fill="#000"  stroke="#000" stroke-width="0.3">3.5/1.7</text>
<text x="353.1" y="452.8" font-size="8.4" text-anchor="middle" font-weight="bold" textLength="17" lengthAdjust="spacingAndGlyphs" fill="#000"  stroke="#000" stroke-width="0.3">50/60</text>
<text x="405.3" y="452.8" font-size="8.4" text-anchor="middle" font-weight="bold" textLength="13.5" lengthAdjust="spacingAndGlyphs" fill="#000"  stroke="#000" stroke-width="0.3">1140</text>
<text x="481.3" y="452.8" font-size="8.4" text-anchor="middle" font-weight="bold" textLength="40" lengthAdjust="spacingAndGlyphs" fill="#000"  stroke="#000" stroke-width="0.3">REVERSIBLE</text>
<text x="557.8" y="452.8" font-size="8.4" text-anchor="middle" font-weight="bold" textLength="13.5" lengthAdjust="spacingAndGlyphs" fill="#000"  stroke="#000" stroke-width="0.3">3913</text>
<text x="557.8" y="431.0" font-size="8.4" text-anchor="middle" font-weight="bold" textLength="33" lengthAdjust="spacingAndGlyphs" fill="#000"  stroke="#000" stroke-width="0.3">KLIXON T.I.</text>
<text x="15" y="460.8" font-size="4.3" text-anchor="middle" textLength="13" lengthAdjust="spacingAndGlyphs" fill="#262626"  stroke="#262626" stroke-width="0.1">SHEET</text>
<text x="15.2" y="465.0" font-size="4.3" text-anchor="middle" textLength="16.5" lengthAdjust="spacingAndGlyphs" fill="#262626"  stroke="#262626" stroke-width="0.1">NUMBER</text>
<text x="7.4" y="475.2" font-size="7.6" fill="#333"  stroke="#333" stroke-width="0.12">1</text>
<text x="12.3" y="475.0" font-size="4.4" textLength="4.0" lengthAdjust="spacingAndGlyphs" fill="#333"  stroke="#333" stroke-width="0.1">OF</text>
<text x="20.0" y="475.2" font-size="7.6" fill="#333"  stroke="#333" stroke-width="0.12">1</text>
<text x="36" y="460.8" font-size="4.3" text-anchor="middle" textLength="8" lengthAdjust="spacingAndGlyphs" fill="#262626"  stroke="#262626" stroke-width="0.1">REV</text>
<text x="36.6" y="475.7" font-size="14.2" text-anchor="middle" font-weight="bold" textLength="8.2" lengthAdjust="spacingAndGlyphs" fill="#111" >E</text>
<text x="25.5" y="485.6" font-size="4.4" text-anchor="middle" textLength="29.5" lengthAdjust="spacingAndGlyphs" fill="#262626"  stroke="#262626" stroke-width="0.1">REVISION DATE</text>
<text x="25.8" y="500.3" font-size="8.2" text-anchor="middle" font-weight="bold" textLength="30" lengthAdjust="spacingAndGlyphs" fill="#000"  stroke="#000" stroke-width="0.3">22-OCT-12</text>
<text x="8" y="508.9" font-size="4.4" textLength="20.3" lengthAdjust="spacingAndGlyphs" fill="#262626"  stroke="#262626" stroke-width="0.1">ISSUED BY</text>
<text x="48.8" y="516.7" font-size="8.2" text-anchor="middle" font-weight="bold" textLength="37.5" lengthAdjust="spacingAndGlyphs" fill="#000"  stroke="#000" stroke-width="0.3">R. MORALES</text>
<text x="5" y="523.3" font-size="4.2" textLength="48.7" lengthAdjust="spacingAndGlyphs" fill="#262626"  stroke="#262626" stroke-width="0.1">V01_NMCA (MAR-2011)</text>
<text x="83.6" y="462.4" font-size="7.6" textLength="92.6" lengthAdjust="spacingAndGlyphs" fill="#333"  stroke="#333" stroke-width="0.12">REVISION RECORD FOR:</text>
<text x="179.4" y="462.4" font-size="8.2" font-weight="bold" textLength="28" lengthAdjust="spacingAndGlyphs" fill="#000"  stroke="#000" stroke-width="0.3">C6407-00</text>
<text x="48" y="470.0" font-size="4.1" font-weight="bold" textLength="91" lengthAdjust="spacingAndGlyphs" fill="#333" >UPDATED ENGINEER APPROVED TO B. GAITAN</text>
<text x="96" y="509.4" font-size="4.4" textLength="26.4" lengthAdjust="spacingAndGlyphs" fill="#262626"  stroke="#262626" stroke-width="0.1">REVIEWED BY</text>
<text x="136.5" y="516.5" font-size="8.2" text-anchor="middle" font-weight="bold" textLength="37" lengthAdjust="spacingAndGlyphs" fill="#000"  stroke="#000" stroke-width="0.3">M. LARGENT</text>
<text x="186.6" y="509.4" font-size="4.4" textLength="43" lengthAdjust="spacingAndGlyphs" fill="#262626"  stroke="#262626" stroke-width="0.1">ENGINEER APPROVED</text>
<text x="227.4" y="516.5" font-size="8.2" text-anchor="middle" font-weight="bold" textLength="30" lengthAdjust="spacingAndGlyphs" fill="#000"  stroke="#000" stroke-width="0.3">B. GAITAN</text>
<path d="M255.6 498.3 L270.4 498.3 L270.4 512.4 L263 517.2 L255.6 512.4 Z" stroke="#1c1c1c" stroke-width="0.8" fill="none" />
<text x="263" y="503.6" font-size="4.4" text-anchor="middle" textLength="9.5" lengthAdjust="spacingAndGlyphs" fill="#262626"  stroke="#262626" stroke-width="0.1">REV.</text>
<text x="263" y="512.0" font-size="7.2" text-anchor="middle" fill="#222"  stroke="#222" stroke-width="0.12">E</text>
<text x="365.5" y="464.0" font-size="6.9" text-anchor="middle" textLength="159" lengthAdjust="spacingAndGlyphs" fill="#222"  stroke="#222" stroke-width="0.12">INFORMATION DISCLOSED ON THIS DOCUMENT</text>
<text x="366.1" y="472.0" font-size="6.9" text-anchor="middle" textLength="164.3" lengthAdjust="spacingAndGlyphs" fill="#222"  stroke="#222" stroke-width="0.12">IS CONSIDERED PROPRIETARY AND SHALL NOT BE</text>
<text x="366.7" y="480.0" font-size="6.9" text-anchor="middle" textLength="160" lengthAdjust="spacingAndGlyphs" fill="#222"  stroke="#222" stroke-width="0.12">REPRODUCED OR DISCLOSED WITHOUT WRITTEN</text>
<text x="366.2" y="487.8" font-size="6.9" text-anchor="middle" textLength="139" lengthAdjust="spacingAndGlyphs" fill="#222"  stroke="#222" stroke-width="0.12">CONSENT OF NIDEC MOTOR CORPORATION</text>
<text x="431.3" y="496.6" font-size="5.2" text-anchor="middle" textLength="184" lengthAdjust="spacingAndGlyphs" fill="#222"  stroke="#222" stroke-width="0.12">ALL DIMENSIONS ARE FOR REFERENCE ONLY UNLESS TOLERANCE IS GIVEN</text>
<text x="367.8" y="503.3" font-size="5.0" text-anchor="middle" textLength="12.3" lengthAdjust="spacingAndGlyphs" fill="#262626"  stroke="#262626" stroke-width="0.12">TITLE</text>
<text x="366.6" y="515.2" font-size="11.6" text-anchor="middle" textLength="103.3" lengthAdjust="spacingAndGlyphs" fill="#222"  stroke="#222" stroke-width="0.2">ASSEMBLED VIEW</text>
<text x="526.6" y="470.9" font-size="12.8" text-anchor="middle" font-weight="bold" textLength="85.8" lengthAdjust="spacingAndGlyphs" fill="#111" stroke="#111" stroke-width="0.25">NIDEC MOTOR</text>
<text x="527.7" y="484.2" font-size="12.8" text-anchor="middle" font-weight="bold" textLength="88" lengthAdjust="spacingAndGlyphs" fill="#111" stroke="#111" stroke-width="0.25">CORPORATION</text>
<text x="482.3" y="503.2" font-size="4.5" text-anchor="middle" textLength="12.5" lengthAdjust="spacingAndGlyphs" fill="#262626"  stroke="#262626" stroke-width="0.1">CODE</text>
<text x="481.6" y="515.7" font-size="11.5" text-anchor="middle" textLength="18.3" lengthAdjust="spacingAndGlyphs" fill="#222"  stroke="#222" stroke-width="0.2">V01</text>
<text x="537.4" y="503.2" font-size="4.5" text-anchor="middle" textLength="22.5" lengthAdjust="spacingAndGlyphs" fill="#262626"  stroke="#262626" stroke-width="0.1">ITEM NO.</text>
<text x="538.1" y="515.9" font-size="11.0" text-anchor="middle" font-weight="bold" textLength="31.3" lengthAdjust="spacingAndGlyphs" fill="#111" >339376</text>
<text x="583.3" y="503.2" font-size="4.6" text-anchor="middle" textLength="10.5" lengthAdjust="spacingAndGlyphs" fill="#262626"  stroke="#262626" stroke-width="0.1">SIZE</text>
<text x="583.5" y="515.9" font-size="11.2" text-anchor="middle" fill="#222"  stroke="#222" stroke-width="0.2">A</text>
<text x="579.1" y="524.2" font-size="4.2" text-anchor="middle" textLength="25.8" lengthAdjust="spacingAndGlyphs" fill="#262626"  stroke="#262626" stroke-width="0.1">SOLIDEDGE</text>
</svg>
</body></html>
